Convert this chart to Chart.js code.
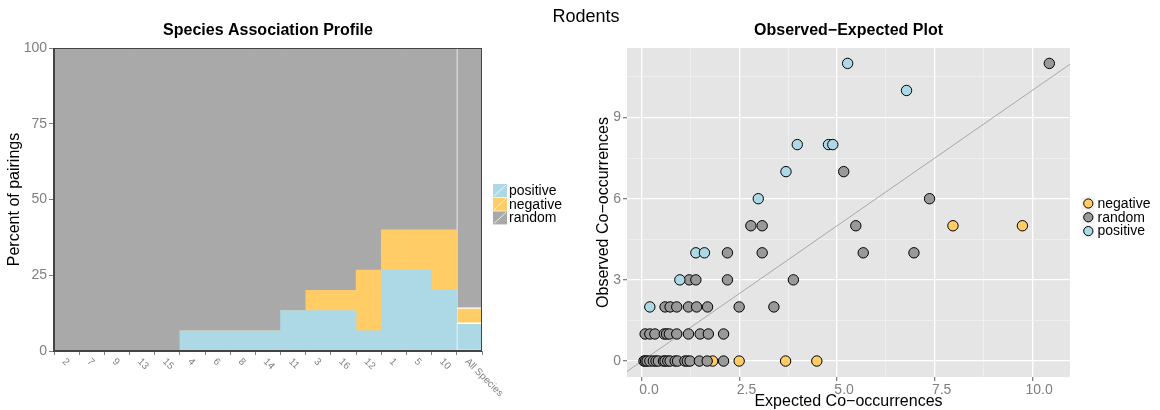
<!DOCTYPE html>
<html>
<head>
<meta charset="utf-8">
<title>Rodents</title>
<script src="https://cdn.jsdelivr.net/npm/chart.js@4.4.0/dist/chart.umd.min.js"></script>
<style>
  body { margin: 0; background: #fff; font-family: "Liberation Sans", Arial, sans-serif; }
  #wrap { position: relative; width: 1160px; height: 410px; overflow: hidden; }
  #left { position: absolute; left: 0; top: 0; }
  #right { position: absolute; left: 580px; top: 0; }
  #mainTitle { position: absolute; left: 6px; top: 6px; width: 1160px; text-align: center; font-size: 18px; line-height: 20px; color: #000; }
</style>
</head>
<body>
<div id="wrap">
  <canvas id="left" width="580" height="410"></canvas>
  <canvas id="right" width="580" height="410"></canvas>
  <div id="mainTitle">Rodents</div>
</div>
<script>
  // ---- Species association profile (percent of pairings per species) ----
  const species = ['2', '7', '9', '13', '15', '4', '6', '8', '14', '11', '3', '16', '12', '1', '5', '10', 'All Species'];
  const positivePct = [0, 0, 0, 0, 0, 6.67, 6.67, 6.67, 6.67, 13.33, 13.33, 13.33, 6.67, 26.67, 26.67, 20, 9.17];
  const negativePct = [0, 0, 0, 0, 0, 0, 0, 0, 0, 0, 6.67, 6.67, 20, 13.33, 13.33, 20, 5];
  const randomPct   = [100, 100, 100, 100, 100, 93.33, 93.33, 93.33, 93.33, 86.67, 80, 80, 73.33, 60, 60, 60, 85.83];
  const pctTicks = [0, 25, 50, 75, 100];

  // ---- Observed vs expected co-occurrences ----
  const negX = [1.81, 2.49, 3.68, 4.48, 7.97, 9.75];
  const negY = [0, 0, 0, 0, 5, 5];
  const randX = [0.05, 0.09, 0.13, 0.2, 0.29, 0.36, 0.42, 0.55, 0.59, 0.66, 0.72, 0.85, 0.91, 1.1, 1.16, 1.23, 1.47, 1.67, 2.09,
                 0.08, 0.2, 0.33, 0.57, 0.63, 0.7, 0.89, 1.19, 1.49, 1.7, 2.09,
                 0.59, 0.72, 0.89, 1.19, 1.4, 1.68, 2.49, 3.38,
                 1.21, 1.38, 2.19, 3.88,
                 2.19, 3.08, 5.67, 6.97,
                 2.79, 3.08, 5.48,
                 7.37,
                 5.17,
                 10.44];
  const randY = [0, 0, 0, 0, 0, 0, 0, 0, 0, 0, 0, 0, 0, 0, 0, 0, 0, 0, 0,
                 1, 1, 1, 1, 1, 1, 1, 1, 1, 1, 1,
                 2, 2, 2, 2, 2, 2, 2, 2,
                 3, 3, 3, 3,
                 4, 4, 4, 4,
                 5, 5, 5,
                 6,
                 7,
                 11];
  const posX = [0.2, 0.97, 1.38, 1.6, 2.98, 3.69, 3.98, 4.78, 4.89, 6.78, 5.27];
  const posY = [2, 3, 4, 4, 6, 7, 8, 8, 8, 10, 11];
  const refLine = [-1, 12];   // y = x
  const xTicks = [0, 2.5, 5, 7.5, 10];
  const xTickLabels = ['0.0', '2.5', '5.0', '7.5', '10.0'];
  const xMinor = [1.25, 3.75, 6.25, 8.75];
  const yTicks = [0, 3, 6, 9];
  const yMinor = [1.5, 4.5, 7.5, 10.5];

  const COL = { positive: '#ADD8E6', negative: '#FFCC66', random: '#A9A9A9', randomPt: '#999999' };
  const GREY = '#7f7f7f';
  const FONT = '"Liberation Sans", Arial, sans-serif';
  Chart.defaults.font.family = FONT;
  Chart.defaults.color = GREY;

  const zip = (xs, ys) => xs.map((x, i) => ({ x, y: ys[i] }));
  const lastIdx = species.length - 1;

  function barSet(label, data, color) {
    return {
      label, data, backgroundColor: color, borderColor: '#fff',
      borderWidth: c => c.dataIndex === lastIdx ? 1 : 0,
      borderSkipped: false, categoryPercentage: 1, barPercentage: 1,
    };
  }

  // left panel: border, rotated species labels, title, legend
  const profileDecor = {
    id: 'profileDecor',
    afterDraw(chart) {
      const { ctx, chartArea: a } = chart;
      const xs = chart.scales.x;
      ctx.save();
      ctx.strokeStyle = '#444';
      ctx.lineWidth = 1;
      ctx.strokeRect(a.left + 0.5, a.top + 0.5, a.right - a.left - 1, a.bottom - a.top - 1);
      ctx.lineWidth = 2;
      ctx.beginPath();
      ctx.moveTo(a.left, a.top); ctx.lineTo(a.left, a.bottom); ctx.lineTo(a.right, a.bottom);
      ctx.stroke();

      ctx.fillStyle = GREY;
      ctx.font = '10px ' + FONT;
      ctx.textAlign = 'left';
      ctx.textBaseline = 'middle';
      species.forEach((s, i) => {
        const px = xs.getPixelForTick(i);
        ctx.save();
        ctx.translate(px - 3, a.bottom + 9);
        ctx.rotate(Math.PI / 4);
        ctx.fillText(s, 0, 0);
        ctx.restore();
      });

      ctx.fillStyle = '#000';
      ctx.font = 'bold 16px ' + FONT;
      ctx.textAlign = 'center';
      ctx.fillText('Species Association Profile', (a.left + a.right) / 2, 31);

      const items = [['positive', COL.positive], ['negative', COL.negative], ['random', COL.random]];
      ctx.font = '14px ' + FONT;
      ctx.textAlign = 'left';
      items.forEach(([name, color], i) => {
        const y0 = 184 + i * 13.7;
        ctx.fillStyle = color;
        ctx.fillRect(493, y0, 14, 13);
        ctx.strokeStyle = 'rgba(255,255,255,0.75)';
        ctx.lineWidth = 1;
        ctx.beginPath(); ctx.moveTo(494, y0 + 12); ctx.lineTo(506, y0 + 1); ctx.stroke();
        ctx.fillStyle = '#000';
        ctx.fillText(name, 509, y0 + 7);
      });
      ctx.restore();
    },
  };

  new Chart(document.getElementById('left'), {
    type: 'bar',
    data: {
      labels: species,
      datasets: [
        barSet('positive', positivePct, COL.positive),
        barSet('negative', negativePct, COL.negative),
        barSet('random', randomPct, COL.random),
      ],
    },
    options: {
      responsive: false, animation: false, devicePixelRatio: 1, events: [],
      layout: { padding: { left: 0, top: 48, right: 98, bottom: 0 } },
      plugins: { legend: { display: false }, tooltip: { enabled: false } },
      scales: {
        x: {
          stacked: true,
          ticks: { display: false },
          grid: { drawOnChartArea: false, tickLength: 4, color: GREY },
          border: { display: false },
          afterFit: s => { s.height = 59; },
        },
        y: {
          stacked: true, min: 0, max: 100,
          afterBuildTicks: s => { s.ticks = pctTicks.map(v => ({ value: v })); },
          ticks: { color: GREY, font: { size: 14 }, padding: 2 },
          grid: { drawOnChartArea: false, tickLength: 5, color: GREY },
          border: { display: false },
          title: { display: true, text: 'Percent of pairings', color: '#000', font: { size: 16 }, padding: { top: 5 } },
          afterFit: s => { s.width = 54; },
        },
      },
    },
    plugins: [profileDecor],
  });

  // right panel: grey background, title, point legend
  const scatterDecor = {
    id: 'scatterDecor',
    beforeDraw(chart) {
      const { ctx, chartArea: a } = chart;
      ctx.save();
      ctx.fillStyle = '#E5E5E5';
      ctx.fillRect(a.left, a.top, a.right - a.left, a.bottom - a.top);
      ctx.restore();
    },
    afterDraw(chart) {
      const { ctx, chartArea: a } = chart;
      ctx.save();
      ctx.fillStyle = '#000';
      ctx.font = 'bold 16px ' + FONT;
      ctx.textAlign = 'center';
      ctx.textBaseline = 'middle';
      ctx.fillText('Observed\u2212Expected Plot', (a.left + a.right) / 2, 31);

      const items = [['negative', COL.negative], ['random', COL.randomPt], ['positive', COL.positive]];
      ctx.font = '14px ' + FONT;
      ctx.textAlign = 'left';
      items.forEach(([name, color], i) => {
        const y = 203.5 + i * 13.8;
        ctx.fillStyle = '#F2F2F2';
        ctx.fillRect(501.5, y - 6.5, 13, 13);
        ctx.beginPath();
        ctx.arc(508.3, y, 4.6, 0, Math.PI * 2);
        ctx.fillStyle = color; ctx.fill();
        ctx.strokeStyle = '#000'; ctx.lineWidth = 1; ctx.stroke();
        ctx.fillStyle = '#000';
        ctx.fillText(name, 517.5, y + 0.5);
      });
      ctx.restore();
    },
  };

  const isMajor = (list, v) => list.some(t => Math.abs(t - v) < 1e-6);
  function pointSet(label, xs, ys, color, order) {
    return {
      label, data: zip(xs, ys), order,
      pointRadius: 5.2, pointBackgroundColor: color, pointBorderColor: '#000', pointBorderWidth: 1,
    };
  }

  new Chart(document.getElementById('right'), {
    type: 'scatter',
    data: {
      datasets: [
        { label: 'y=x', data: zip(refLine, refLine), showLine: true, pointRadius: 0, borderColor: '#a8a8a8', borderWidth: 1, order: 5 },
        pointSet('negative', negX, negY, COL.negative, 3),
        pointSet('random', randX, randY, COL.randomPt, 2),
        pointSet('positive', posX, posY, COL.positive, 1),
      ],
    },
    options: {
      responsive: false, animation: false, devicePixelRatio: 1, events: [],
      layout: { padding: { left: 0, top: 48, right: 90, bottom: 0 } },
      plugins: { legend: { display: false }, tooltip: { enabled: false } },
      scales: {
        x: {
          type: 'linear', min: -0.385, max: 10.97,
          afterBuildTicks: s => { s.ticks = xTicks.concat(xMinor).sort((p, q) => p - q).map(v => ({ value: v })); },
          ticks: {
            color: GREY, font: { size: 14 }, padding: 1, maxRotation: 0, autoSkip: false, labelOffset: 7,
            callback: v => { const i = xTicks.findIndex(t => Math.abs(t - v) < 1e-6); return i < 0 ? '' : xTickLabels[i]; },
          },
          grid: {
            tickLength: 4,
            color: c => isMajor(xTicks, c.tick.value) ? '#ffffff' : '#F4F4F4',
            lineWidth: c => isMajor(xTicks, c.tick.value) ? 1.3 : 0.7,
            tickColor: c => isMajor(xTicks, c.tick.value) ? GREY : 'rgba(0,0,0,0)',
          },
          border: { display: false },
          title: { display: true, text: 'Expected Co\u2212occurrences', color: '#000', font: { size: 16, lineHeight: 1 }, padding: { top: 0, bottom: 0 } },
          afterFit: s => { s.height = 33; },
        },
        y: {
          type: 'linear', min: -0.59, max: 11.57,
          afterBuildTicks: s => { s.ticks = yTicks.concat(yMinor).sort((p, q) => p - q).map(v => ({ value: v })); },
          ticks: {
            color: GREY, font: { size: 14 }, padding: 2, autoSkip: false,
            callback: v => isMajor(yTicks, v) ? String(v) : '',
          },
          grid: {
            tickLength: 4,
            color: c => isMajor(yTicks, c.tick.value) ? '#ffffff' : '#F4F4F4',
            lineWidth: c => isMajor(yTicks, c.tick.value) ? 1.3 : 0.7,
            tickColor: c => isMajor(yTicks, c.tick.value) ? GREY : 'rgba(0,0,0,0)',
          },
          border: { display: false },
          title: { display: true, text: 'Observed Co\u2212occurrences', color: '#000', font: { size: 16 }, padding: { top: 14 } },
          afterFit: s => { s.width = 47; },
        },
      },
    },
    plugins: [scatterDecor],
  });
</script>
</body>
</html>
